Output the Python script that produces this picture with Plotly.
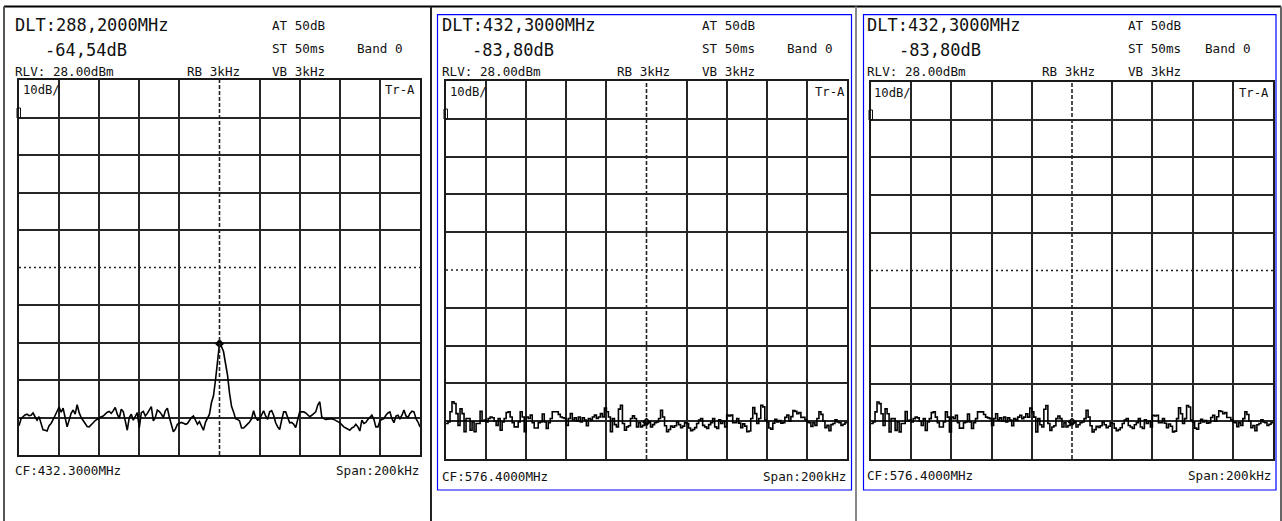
import plotly.graph_objects as go

W, H = 1282, 521

# ---------------- data ----------------
FREQ_KHZ = list(range(-100, 101))          # offset from centre frequency, kHz

TRACE_A_DB = [  # left screenshot (with carrier residue at centre)
    -64.2, -62.4, -61.8, -61.3, -61.1, -61.5, -61.4, -60.8, -61.8, -62.7,
    -61.8, -63.8, -65.3, -65.4, -65.6, -64.2, -63.6, -62.6, -61.3, -60.0,
    -59.2, -60.6, -59.5, -62.0, -64.5, -62.7, -60.9, -60.0, -61.1, -58.6,
    -60.7, -62.0, -62.7, -63.5, -64.4, -64.5, -63.8, -63.4, -62.8, -62.4,
    -62.1, -61.8, -61.6, -61.1, -60.6, -60.4, -60.9, -60.2, -59.3, -61.1,
    -62.2, -59.8, -60.4, -62.9, -65.4, -62.0, -61.1, -62.7, -61.8, -60.7,
    -64.7, -60.7, -60.4, -61.6, -60.9, -60.0, -59.1, -62.9, -62.0, -60.0,
    -60.4, -61.1, -62.0, -60.2, -59.5, -62.0, -63.8, -65.8, -65.1, -63.8,
    -63.5, -63.3, -63.5, -63.8, -63.6, -62.7, -62.0, -61.6, -62.9, -63.8,
    -63.1, -64.2, -65.4, -63.3, -62.0, -61.1, -58.0, -56.2, -52.0, -47.6,
    -42.3, -43.1, -44.4, -47.6, -50.7, -55.5, -59.0, -60.5, -62.3, -62.5,
    -62.9, -64.8, -64.8, -64.3, -63.8, -63.2, -62.3, -60.2, -62.0, -62.7,
    -62.4, -61.4, -60.2, -61.6, -62.5, -60.5, -60.2, -61.4, -63.4, -64.5,
    -65.2, -62.7, -60.5, -60.5, -62.0, -63.4, -63.3, -63.8, -64.7, -62.7,
    -60.5, -60.5, -60.5, -60.8, -61.4, -61.8, -61.4, -60.9, -60.5, -58.7,
    -57.8, -61.8, -62.3, -62.5, -62.4, -62.3, -62.3, -62.5, -62.9, -63.1,
    -63.4, -64.0, -64.5, -64.8, -65.0, -65.4, -64.8, -64.5, -63.8, -64.5,
    -65.6, -62.7, -63.6, -63.3, -62.5, -61.8, -61.4, -62.5, -64.5, -64.5,
    -62.9, -62.5, -62.3, -61.4, -60.8, -60.5, -62.3, -63.4, -61.6, -61.4,
    -62.3, -61.4, -60.0, -61.6, -62.0, -60.9, -60.3, -60.5, -62.3, -63.2,
    -64.5,
]

TRACE_B_DB = [  # middle and right screenshots (noise floor only)
    -62.6, -62.2, -59.5, -56.9, -57.3, -60.0, -63.1, -58.7, -60.0, -64.8,
    -61.3, -61.3, -64.4, -62.2, -64.8, -62.6, -62.6, -59.4, -62.0, -61.7,
    -62.2, -61.3, -60.9, -61.1, -62.0, -63.1, -61.3, -64.4, -62.2, -61.3,
    -59.7, -59.5, -60.9, -62.4, -63.5, -63.5, -62.2, -59.5, -60.9, -64.8,
    -60.9, -61.3, -60.4, -62.4, -63.8, -63.8, -62.4, -62.2, -60.1, -62.2,
    -63.9, -62.4, -61.3, -59.5, -59.5, -59.5, -60.2, -60.9, -61.1, -61.3,
    -63.1, -61.3, -60.0, -61.7, -61.1, -62.0, -60.9, -62.2, -61.1, -61.7,
    -63.2, -61.3, -61.7, -60.9, -60.4, -61.3, -60.9, -60.0, -60.9, -58.5,
    -59.5, -60.9, -64.8, -61.3, -62.9, -63.5, -58.8, -57.8, -62.6, -64.4,
    -63.5, -63.2, -61.3, -60.6, -61.3, -63.5, -62.4, -63.5, -63.1, -62.9,
    -62.2, -62.2, -63.5, -62.9, -62.4, -62.2, -61.3, -59.1, -60.9, -63.2,
    -64.8, -64.2, -63.3, -63.6, -63.2, -62.2, -62.9, -63.7, -63.3, -62.4,
    -62.6, -63.8, -64.5, -64.2, -63.7, -62.6, -61.7, -61.3, -63.1, -63.5,
    -63.9, -62.9, -62.4, -61.3, -63.5, -63.9, -61.6, -62.6, -62.0, -63.5,
    -60.4, -60.6, -60.4, -62.4, -62.4, -61.3, -62.5, -63.7, -62.7, -63.3,
    -64.8, -64.6, -61.3, -58.4, -60.0, -62.6, -61.3, -57.8, -58.2, -61.7,
    -62.2, -63.8, -64.1, -62.5, -61.5, -62.2, -61.8, -62.5, -62.4, -61.0,
    -60.4, -62.0, -60.8, -59.2, -59.4, -60.0, -59.7, -61.0, -61.0, -61.6,
    -62.2, -62.4, -63.4, -62.4, -63.1, -61.3, -59.5, -60.2, -62.0, -63.7,
    -63.1, -64.5, -62.9, -62.6, -61.6, -62.2, -62.4, -63.1, -62.8, -62.4,
    -62.2,
]

REF_LEVEL_DBM = 28.0
DB_PER_DIV = 10
N_DIV = 10
SPAN_KHZ = 200

PANEL_DLT = ["DLT:288,2000MHz", "DLT:432,3000MHz", "DLT:432,3000MHz"]
PANEL_DELTA = ["-64,54dB", "-83,80dB", "-83,80dB"]
PANEL_CF = ["CF:432.3000MHz", "CF:576.4000MHz", "CF:576.4000MHz"]
PANEL_TRACES = [TRACE_A_DB, TRACE_B_DB, TRACE_B_DB]
MARKER_FREQ = [0, 0, 0]

# ---------------- layout (pixels) ----------------
GRID = [(19, 420, 80, 455), (446, 847, 81, 459), (871, 1273, 82, 459)]
TEXT_X = [
    dict(l=13, d=43, rb=185, at=270, band=355, tenx=21, tra=417, span=421, ten_y=90, bot=470),
    dict(l=440, d=470, rb=615, at=700, band=785, tenx=448, tra=847, span=848, ten_y=92, bot=476),
    dict(l=865, d=897, rb=1040, at=1126, band=1203, tenx=872, tra=1271, span=1273, ten_y=93, bot=475),
]

def px(x):
    return x / W

def py(y):
    return 1 - y / H

FONT = "DejaVu Sans Mono"
INK = "#111111"

fig = go.Figure()
annotations = []
shapes = []

y_bottom = REF_LEVEL_DBM - DB_PER_DIV * N_DIV
grid_x = [v for v in range(-80, 100, 20) if v != 0]
grid_y = [y_bottom + DB_PER_DIV * k for k in range(1, N_DIV) if k != 5]
mid_y = y_bottom + DB_PER_DIV * 5

for i, (gl, gr, gt, gb) in enumerate(GRID):
    n = i + 1
    xa = "x" if n == 1 else f"x{n}"
    ya = "y" if n == 1 else f"y{n}"
    ax_common = dict(showticklabels=False, ticks="", zeroline=False, showline=True,
                     mirror=True, linecolor="#1a1a1a", linewidth=2,
                     showgrid=True, gridcolor="#262626", gridwidth=2)
    fig.update_layout(**{
        ("xaxis" if n == 1 else f"xaxis{n}"): dict(
            domain=[px(gl), px(gr)], range=[-SPAN_KHZ / 2, SPAN_KHZ / 2],
            tickvals=grid_x, anchor=ya, fixedrange=True, **ax_common),
        ("yaxis" if n == 1 else f"yaxis{n}"): dict(
            domain=[py(gb), py(gt)], range=[y_bottom, REF_LEVEL_DBM],
            tickvals=grid_y, anchor=xa, fixedrange=True, **ax_common),
    })
    shapes.append(dict(type="line", xref=xa, yref=ya, x0=0, x1=0, y0=y_bottom, y1=REF_LEVEL_DBM,
                       line=dict(color="#222222", width=1.6, dash="4px,2px")))
    shapes.append(dict(type="line", xref=xa, yref=ya, x0=-SPAN_KHZ / 2, x1=SPAN_KHZ / 2, y0=mid_y, y1=mid_y,
                       line=dict(color="#222222", width=1.6, dash="2px,3px")))
    trace = PANEL_TRACES[i]
    fig.add_trace(go.Scatter(x=FREQ_KHZ, y=trace, mode="lines", xaxis=xa, yaxis=ya,
                             line=dict(color="#000000", width=1.6,
                                       shape="linear" if i == 0 else "hv"),
                             showlegend=False, hoverinfo="skip"))
    mk = MARKER_FREQ[i]
    fig.add_trace(go.Scatter(x=[mk], y=[trace[FREQ_KHZ.index(mk)]], mode="markers",
                             xaxis=xa, yaxis=ya, showlegend=False, hoverinfo="skip",
                             marker=dict(symbol="diamond", size=7, color="#000000")))
    shapes.append(dict(type="rect", xref="paper", yref="paper",
                       x0=px(gl - 2), x1=px(gl + 1.5), y0=py(gt + 38), y1=py(gt + 28),
                       line=dict(color="#111111", width=1)))

    t = TEXT_X[i]
    def ann(x, y, text, size, anchor="left"):
        annotations.append(dict(x=px(x), y=py(y), xref="paper", yref="paper", text=text,
                                showarrow=False, xanchor=anchor, yanchor="middle",
                                font=dict(family=FONT, size=size, color=INK)))
    ann(t["l"], 25, PANEL_DLT[i], 17)
    ann(t["d"], 50, PANEL_DELTA[i], 17)
    ann(t["l"], 71, "RLV: 28.00dBm", 12.6)
    ann(t["rb"], 71, "RB 3kHz", 12.6)
    ann(t["at"], 25, "AT 50dB", 12.6)
    ann(t["at"], 49, "ST 50ms", 12.6)
    ann(t["band"], 49, "Band 0", 12.6)
    ann(t["at"], 71, "VB 3kHz", 12.6)
    ann(t["tenx"], t["ten_y"], "10dB/", 12.2)
    ann(t["tra"], t["ten_y"], "Tr-A", 12.2, anchor="right")
    ann(t["l"], t["bot"], PANEL_CF[i], 12.6)
    ann(t["span"], t["bot"], "Span:200kHz", 12.6, anchor="right")

shapes += [
    dict(type="line", xref="paper", yref="paper", x0=px(4), x1=px(1281), y0=py(6.5), y1=py(6.5),
         line=dict(color="#000000", width=2)),
    dict(type="line", xref="paper", yref="paper", x0=px(4), x1=px(4), y0=py(6.5), y1=0,
         line=dict(color="#555555", width=2)),
    dict(type="line", xref="paper", yref="paper", x0=px(431), x1=px(431), y0=py(6.5), y1=0,
         line=dict(color="#222222", width=2)),
    dict(type="line", xref="paper", yref="paper", x0=px(856), x1=px(856), y0=py(6.5), y1=0,
         line=dict(color="#888888", width=2)),
    dict(type="line", xref="paper", yref="paper", x0=px(1281), x1=px(1281), y0=py(6.5), y1=0,
         line=dict(color="#666666", width=2)),
    dict(type="rect", xref="paper", yref="paper", x0=px(437.5), x1=px(851.5), y0=py(490), y1=py(14.7),
         line=dict(color="#0000ff", width=1.2)),
    dict(type="rect", xref="paper", yref="paper", x0=px(863.5), x1=px(1276), y0=py(490), y1=py(14.7),
         line=dict(color="#0000ff", width=1.2)),
]

fig.update_layout(width=W, height=H, margin=dict(l=0, r=0, t=0, b=0),
                  paper_bgcolor="white", plot_bgcolor="white",
                  annotations=annotations, shapes=shapes, showlegend=False)

fig.write_html("out.html", config={"displayModeBar": False},
               post_script="document.body.style.margin='0';document.body.style.padding='0';"
                           "document.body.style.overflow='hidden';")
